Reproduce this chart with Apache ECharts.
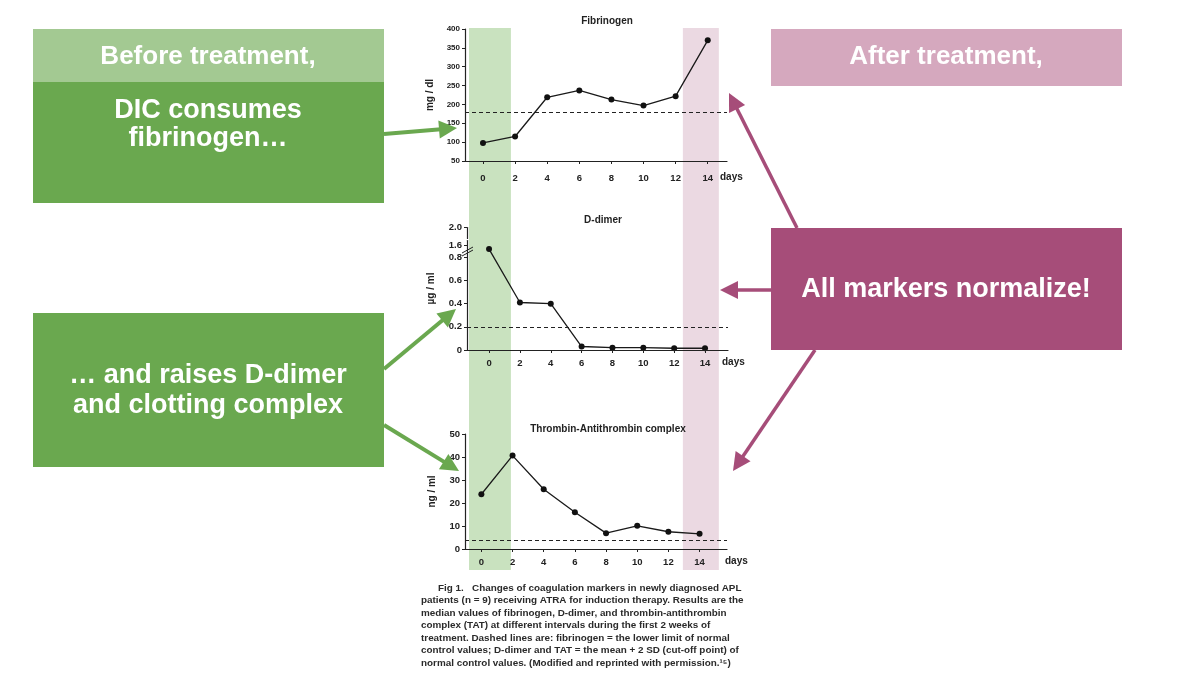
<!DOCTYPE html>
<html>
<head>
<meta charset="utf-8">
<title>Coagulation markers during ATRA induction</title>
<script src="https://cdn.jsdelivr.net/npm/echarts@6.0.0/dist/echarts.min.js"></script>
<style>
  html, body { margin: 0; padding: 0; background: #fff; }
  #chart { width: 1200px; height: 676px; }
</style>
</head>
<body>
<div id="chart"></div>
<script>
// values
const days = [0, 2, 4, 6, 8, 10, 12, 14];
const dayTicks = [0, 2, 4, 6, 8, 10, 12, 14];
const fibrinogen = [98, 115, 219, 237, 213, 197, 222, 370];
const dDimer = [1.57, 0.41, 0.40, 0.03, 0.02, 0.02, 0.015, 0.015];
const tat = [23.8, 40.6, 26.0, 16.0, 6.9, 10.1, 7.5, 6.6];
const fibCutoff = 180;
const dDimerCutoff = 0.2;
const tatCutoff = 3.7;
const dDimerTicks = [0, 0.2, 0.4, 0.6, 0.8, 1.6, 2.0];
const beforeBand = [-0.87, 1.74];
const afterBand = [12.45, 14.69];

const FONT = '"Liberation Sans", Arial, sans-serif';
const GREEN = '#6aa84f';
const MAGENTA = '#a64d79';

const pairs = (ys) => days.map((d, i) => [d, ys[i]]);

const chart = echarts.init(document.getElementById('chart'));

const xAxisBase = (grid, min, max, nameGap, margin) => ({
    type: 'value', gridIndex: grid, min: min, max: max, z: 5,
    splitLine: { show: false },
    axisLine: { onZero: false, lineStyle: { color: '#222', width: 1.2 } },
    axisTick: { customValues: dayTicks, length: 3, lineStyle: { color: '#222' } },
    axisLabel: { customValues: dayTicks, color: '#222', fontFamily: FONT, fontWeight: 'bold', fontSize: 9.5, margin: margin },
    name: 'days', nameLocation: 'end', nameGap: nameGap,
    nameTextStyle: { color: '#222', fontFamily: FONT, fontWeight: 'bold', fontSize: 10, verticalAlign: 'top', padding: [margin - 1, 0, 0, 0] }
});

const yAxisBase = (grid, name, nameGap, labelSize) => ({
    type: 'value', gridIndex: grid, z: 5,
    splitLine: { show: false },
    axisLine: { show: true, onZero: false, lineStyle: { color: '#222', width: 1.2 } },
    axisTick: { show: true, length: 3, lineStyle: { color: '#222' } },
    axisLabel: { color: '#222', fontFamily: FONT, fontWeight: 'bold', fontSize: labelSize, margin: 5 },
    name: name, nameLocation: 'middle', nameRotate: 90, nameGap: nameGap,
    nameTextStyle: { color: '#222', fontFamily: FONT, fontWeight: 'bold', fontSize: 10 }
});

const lineSeries = (xi, yi, data, cutoff) => ({
    type: 'line', xAxisIndex: xi, yAxisIndex: yi, data: data, z: 4,
    symbol: 'circle', symbolSize: 6, silent: true,
    lineStyle: { color: '#1a1a1a', width: 1.3 },
    itemStyle: { color: '#111' },
    markLine: {
        silent: true, symbol: 'none', label: { show: false },
        lineStyle: { color: '#222', type: [4, 3], width: 1 },
        data: [{ yAxis: cutoff }]
    }
});

function arrow(x1, y1, x2, y2, color, w) {
    const dx = x2 - x1, dy = y2 - y1, len = Math.hypot(dx, dy);
    const ux = dx / len, uy = dy / len, hl = 18, hw = 9;
    const bx = x2 - ux * hl, by = y2 - uy * hl;
    return [
        { type: 'line', z: 10, shape: { x1: x1, y1: y1, x2: bx + ux * 2, y2: by + uy * 2 }, style: { stroke: color, lineWidth: w } },
        { type: 'polygon', z: 10, shape: { points: [[x2, y2], [bx - uy * hw, by + ux * hw], [bx + uy * hw, by - ux * hw]] }, style: { fill: color } }
    ];
}

const boxText = (x, y, text, size) => ({
    type: 'text', x: x, y: y, z: 10,
    style: { text: text, fill: '#fff', font: 'bold ' + size + 'px ' + FONT, align: 'center', verticalAlign: 'middle' }
});

const plotTitle = (x, y, text) => ({
    type: 'text', x: x, y: y, z: 10,
    style: { text: text, fill: '#222', font: 'bold 10px ' + FONT, align: 'center', verticalAlign: 'middle' }
});

const captionLines = [
    'Fig 1.   Changes of coagulation markers in newly diagnosed APL',
    'patients (n = 9) receiving ATRA for induction therapy. Results are the',
    'median values of fibrinogen, D-dimer, and thrombin-antithrombin',
    'complex (TAT) at different intervals during the first 2 weeks of',
    'treatment. Dashed lines are: fibrinogen = the lower limit of normal',
    'control values; D-dimer and TAT = the mean + 2 SD (cut-off point) of',
    'normal control values. (Modified and reprinted with permission.\u00b9\u2075)'
];

const graphics = [
    { type: 'rect', z: 9, shape: { x: 33, y: 29, width: 351, height: 53 }, style: { fill: '#a3c992' } },
    { type: 'rect', z: 9, shape: { x: 33, y: 82, width: 351, height: 121 }, style: { fill: GREEN } },
    { type: 'rect', z: 9, shape: { x: 33, y: 313, width: 351, height: 154 }, style: { fill: GREEN } },
    { type: 'rect', z: 9, shape: { x: 771, y: 29, width: 351, height: 57 }, style: { fill: '#d5a8be' } },
    { type: 'rect', z: 9, shape: { x: 771, y: 228, width: 351, height: 122 }, style: { fill: MAGENTA } },
    boxText(208, 57, 'Before treatment,', 26),
    boxText(208, 111, 'DIC consumes', 27),
    boxText(208, 139, 'fibrinogen\u2026', 27),
    boxText(208, 376, '\u2026 and raises D-dimer', 27),
    boxText(208, 406, 'and clotting complex', 27),
    boxText(946, 57, 'After treatment,', 26),
    boxText(946, 290, 'All markers normalize!', 27),
    ...arrow(384, 134, 457, 128, GREEN, 4),
    ...arrow(384, 369, 456, 309, GREEN, 4),
    ...arrow(384, 425, 459, 471, GREEN, 4),
    ...arrow(797, 228, 729, 93, MAGENTA, 3.5),
    ...arrow(771, 290, 720, 290, MAGENTA, 3.5),
    ...arrow(815, 350, 733, 471, MAGENTA, 3.5),
    plotTitle(607, 21, 'Fibrinogen'),
    plotTitle(603, 220, 'D-dimer'),
    plotTitle(608, 429, 'Thrombin-Antithrombin complex')
];
captionLines.forEach((t, i) => {
    graphics.push({
        type: 'text', z: 10, x: i === 0 ? 438 : 421, y: 588 + i * 12.5,
        style: { text: t, fill: '#2a2a2a', font: 'bold 9.9px ' + FONT, verticalAlign: 'middle' }
    });
});

const option = {
    animation: false,
    backgroundColor: '#fff',
    grid: [
        { left: 465, top: 28, width: 254, height: 542 },
        { left: 465, top: 29, width: 262, height: 132 },
        { left: 467, top: 227, width: 261, height: 123 },
        { left: 465, top: 434, width: 262, height: 115 }
    ],
    xAxis: [
        { type: 'value', gridIndex: 0, min: -1.12, max: 14.7, show: false },
        xAxisBase(1, -1.12, 15.2, -7, 12),
        xAxisBase(2, -1.43, 15.49, -6, 8),
        xAxisBase(3, -1.05, 15.76, -2, 8)
    ],
    yAxis: [
        { type: 'value', gridIndex: 0, min: 0, max: 1, show: false },
        Object.assign(yAxisBase(1, 'mg / dl', 30, 8), { min: 50, max: 400, interval: 50 }),
        Object.assign(yAxisBase(2, '\u00b5g / ml', 31, 9.5), {
            min: 0, max: 2.0,
            breaks: [
                { start: 0.84, end: 1.55, gap: '1%' },
                { start: 1.65, end: 1.9, gap: '1%' }
            ],
            breakArea: { show: false },
            axisTick: { show: true, length: 3, customValues: dDimerTicks, lineStyle: { color: '#222' } },
            axisLabel: {
                customValues: dDimerTicks, color: '#222', fontFamily: FONT, fontWeight: 'bold', fontSize: 9.5, margin: 5,
                formatter: (v) => (v === 0 ? '0' : v.toFixed(1))
            }
        }),
        Object.assign(yAxisBase(3, 'ng / ml', 28, 9.5), { min: 0, max: 50, interval: 10 })
    ],
    series: [
        {
            type: 'line', xAxisIndex: 0, yAxisIndex: 0, data: [], z: 1, silent: true,
            markArea: {
                silent: true,
                data: [
                    [{ xAxis: beforeBand[0], itemStyle: { color: '#c9e2bf' } }, { xAxis: beforeBand[1] }],
                    [{ xAxis: afterBand[0], itemStyle: { color: '#ebd9e2' } }, { xAxis: afterBand[1] }]
                ]
            }
        },
        lineSeries(1, 1, pairs(fibrinogen), fibCutoff),
        lineSeries(2, 2, pairs(dDimer), dDimerCutoff),
        lineSeries(3, 3, pairs(tat), tatCutoff)
    ],
    graphic: graphics
};

chart.setOption(option);

// double-slash marks where the D-dimer axis is broken
const yBreak = (chart.convertToPixel({ yAxisIndex: 2 }, 0.84) + chart.convertToPixel({ yAxisIndex: 2 }, 1.55)) / 2;
const xAxisPx = 467;
chart.setOption({
    graphic: graphics.concat([
        { type: 'line', z: 10, shape: { x1: xAxisPx - 5, y1: yBreak + 1, x2: xAxisPx + 6, y2: yBreak - 5 }, style: { stroke: '#222', lineWidth: 1 } },
        { type: 'line', z: 10, shape: { x1: xAxisPx - 5, y1: yBreak + 4, x2: xAxisPx + 6, y2: yBreak - 2 }, style: { stroke: '#222', lineWidth: 1 } }
    ])
});
</script>
</body>
</html>
